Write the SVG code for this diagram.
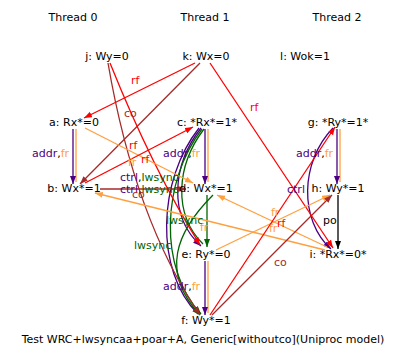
<svg xmlns="http://www.w3.org/2000/svg" width="407" height="361" viewBox="0 0 407 361">
<style>
text{font-family:"DejaVu Sans","Liberation Sans",sans-serif;font-size:11px;fill:#000}
.m{text-anchor:middle}
.e{fill:none;stroke-width:1.3}
.red{stroke:#ff0000}.brn{stroke:#a52a2a}.org{stroke:#ffa040}.pur{stroke:#4b0082}.grn{stroke:#006400}.blk{stroke:#000}
.tr{fill:#ff0000}.tb{fill:#a52a2a}.to{fill:#ffa040}.tp{fill:#4b0082}.tg{fill:#006400}
</style>
<defs>
<marker id="ar" markerUnits="userSpaceOnUse" markerWidth="9" markerHeight="7" refX="8" refY="3" orient="auto"><path d="M0,0L8,3L0,6z" fill="#ff0000"/></marker>
<marker id="ab" markerUnits="userSpaceOnUse" markerWidth="9" markerHeight="7" refX="8" refY="3" orient="auto"><path d="M0,0L8,3L0,6z" fill="#a52a2a"/></marker>
<marker id="ao" markerUnits="userSpaceOnUse" markerWidth="9" markerHeight="7" refX="8" refY="3" orient="auto"><path d="M0,0L8,3L0,6z" fill="#ffa040"/></marker>
<marker id="ap" markerUnits="userSpaceOnUse" markerWidth="9" markerHeight="7" refX="8" refY="3" orient="auto"><path d="M0,0L8,3L0,6z" fill="#4b0082"/></marker>
<marker id="ag" markerUnits="userSpaceOnUse" markerWidth="9" markerHeight="7" refX="8" refY="3" orient="auto"><path d="M0,0L8,3L0,6z" fill="#006400"/></marker>
<marker id="ak" markerUnits="userSpaceOnUse" markerWidth="9" markerHeight="7" refX="8" refY="3" orient="auto"><path d="M0,0L8,3L0,6z" fill="#000"/></marker>
</defs>
<rect width="407" height="361" fill="#fff"/>
<g id="threads">
<text class="m" x="73" y="21">Thread 0</text>
<text class="m" x="205" y="21">Thread 1</text>
<text class="m" x="337" y="21">Thread 2</text>
</g>
<g id="connectors">
<!-- thread 0 -->
<line class="e org" x1="76" y1="129" x2="76" y2="182"/>
<line class="e pur" x1="73" y1="129" x2="73" y2="184" marker-end="url(#ap)"/>
<!-- thread 1 -->
<line class="e org" x1="208" y1="129" x2="208" y2="182"/>
<line class="e pur" x1="205" y1="129" x2="205" y2="184" marker-end="url(#ap)"/>
<line class="e grn" x1="207" y1="195" x2="207" y2="247" marker-end="url(#ag)"/>
<line class="e org" x1="208" y1="261" x2="208" y2="313"/>
<line class="e pur" x1="205" y1="261" x2="205" y2="315" marker-end="url(#ap)"/>
<path class="e grn" d="M204,129 C176,166 173,214 203,244"/>
<path class="e pur" d="M201,128 C172,165 168,216 201,246" marker-end="url(#ap)"/>
<path class="e pur" d="M199,128 C158,180 154,270 198,314"/>
<path class="e grn" d="M202,129 C162,181 158,268 201,314" marker-end="url(#ag)"/>
<path class="e grn" d="M213,195 C176,232 160,272 200,315" marker-end="url(#ag)"/>
<!-- thread 2 -->
<line class="e org" x1="340" y1="129" x2="340" y2="182"/>
<line class="e pur" x1="337" y1="129" x2="337" y2="184" marker-end="url(#ap)"/>
<line class="e blk" x1="338" y1="195" x2="338" y2="249" marker-end="url(#ak)"/>
<path class="e pur" d="M333,128 C300,162 299,220 331,249" marker-end="url(#ap)"/>
<!-- cross edges -->
<line class="e red" x1="195" y1="63" x2="84" y2="118" marker-end="url(#ar)"/>
<line class="e brn" x1="200" y1="63" x2="80" y2="184" marker-end="url(#ab)"/>
<line class="e red" x1="210" y1="63" x2="333" y2="248" marker-end="url(#ar)"/>
<path class="e red" d="M110,63 Q153,170 200,245" marker-end="url(#ar)"/>
<path class="e brn" d="M108,63 Q135,220 200,315" marker-end="url(#ab)"/>
<line class="e org" x1="85" y1="128" x2="193" y2="183" marker-end="url(#ao)"/>
<line class="e red" x1="85" y1="183" x2="193" y2="127" marker-end="url(#ar)"/>
<line class="e brn" x1="100" y1="189" x2="186" y2="189" marker-end="url(#ab)"/>
<line class="e org" x1="325" y1="250" x2="95" y2="193" marker-end="url(#ao)"/>
<line class="e org" x1="327" y1="247" x2="217" y2="195" marker-end="url(#ao)"/>
<line class="e org" x1="216" y1="250" x2="330" y2="195" marker-end="url(#ao)"/>
<line class="e red" x1="210" y1="315" x2="335" y2="127" marker-end="url(#ar)"/>
<line class="e brn" x1="212" y1="315" x2="332" y2="195" marker-end="url(#ab)"/>
<!-- labels -->
<text class="tr" x="131" y="84">rf</text>
<text class="tb" x="124" y="117">co</text>
<text class="tr" x="250" y="111">rf</text>
<text class="tr" x="129" y="149">rf</text>
<text class="to" x="128" y="166">fr</text>
<text class="tr" x="141" y="163">rf</text>
<text x="32" y="157"><tspan class="tp">addr</tspan>,<tspan class="to">fr</tspan></text>
<text x="163" y="157"><tspan class="tp">addr</tspan>,<tspan class="to">fr</tspan></text>
<text x="296" y="157"><tspan class="tp">addr</tspan>,<tspan class="to">fr</tspan></text>
<text x="120" y="181"><tspan class="tp">ctrl</tspan>,<tspan class="tg">lwsync</tspan></text>
<text x="120" y="193"><tspan class="tp">ctrl</tspan>,<tspan class="tg">lwsync</tspan></text>
<text class="tb" x="132" y="198">co</text>
<text class="tp" x="287" y="193">ctrl</text>
<text x="323" y="224">po</text>
<text class="tg" x="166" y="224">lwsync</text>
<text class="to" x="200" y="231">fr</text>
<text class="tg" x="134" y="249">lwsync</text>
<text x="163" y="290"><tspan class="tp">addr</tspan>,<tspan class="to">fr</tspan></text>
<text class="to" x="271" y="216">fr</text>
<text class="to" x="269" y="232">fr</text>
<text class="tr" x="277" y="227">rf</text>
<text class="tb" x="274" y="266">co</text>
</g>
<g id="j"><text class="m" x="107" y="60">j: Wy=0</text></g>
<g id="k"><text class="m" x="206" y="60">k: Wx=0</text></g>
<g id="l"><text class="m" x="305" y="60">l: Wok=1</text></g>
<g id="a"><text class="m" x="74" y="126">a: Rx*=0</text></g>
<g id="c"><text class="m" x="207" y="126">c: *Rx*=1*</text></g>
<g id="g"><text class="m" x="338" y="126">g: *Ry*=1*</text></g>
<g id="b"><text class="m" x="74" y="192">b: Wx*=1</text></g>
<g id="d"><text class="m" x="206" y="192">d: Wx*=1</text></g>
<g id="h"><text class="m" x="338" y="192">h: Wy*=1</text></g>
<g id="e"><text class="m" x="206" y="258">e: Ry*=0</text></g>
<g id="i"><text class="m" x="338" y="258">i: *Rx*=0*</text></g>
<g id="f"><text class="m" x="206" y="324">f: Wy*=1</text></g>
<g id="caption"><text class="m" x="203" y="343">Test WRC+lwsyncaa+poar+A, Generic[withoutco](Uniproc model)</text></g>
</svg>
